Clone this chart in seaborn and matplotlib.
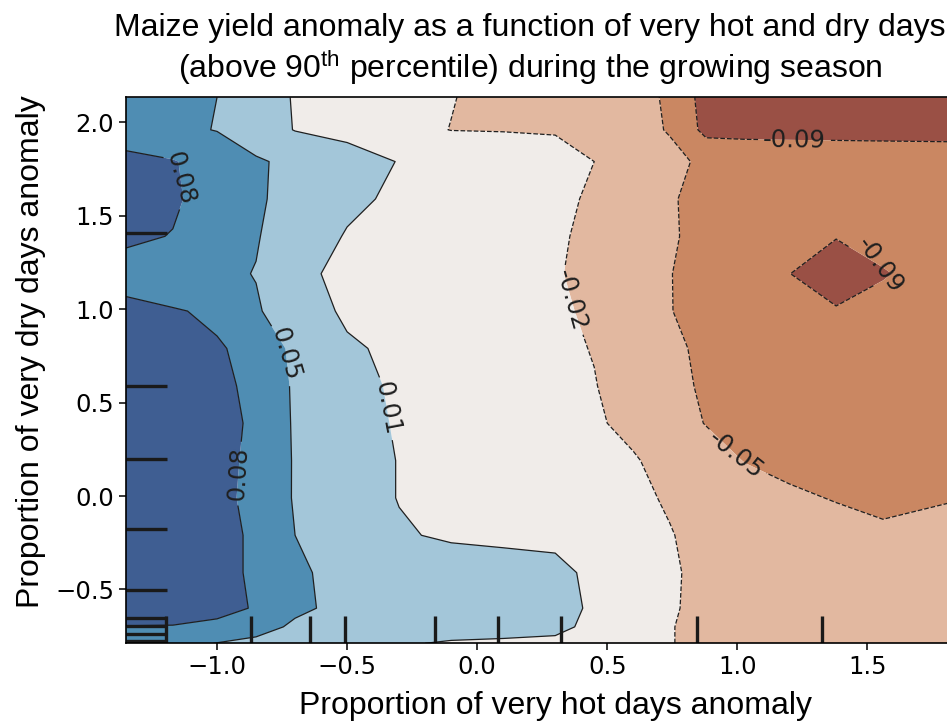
import numpy as np
import pandas as pd
import matplotlib
matplotlib.use("Agg")
import matplotlib.pyplot as plt
import seaborn as sns

# ---------------- data ----------------
hot_grid = [-1.35, -1.17, -1.00, -0.85, -0.70, -0.50, -0.30, -0.10, 0.10, 0.30,
            0.45, 0.60, 0.74, 0.88, 1.03, 1.20, 1.38, 1.56, 1.81]
dry_grid = [-0.788, -0.70, -0.60, -0.41, -0.21, -0.01, 0.19, 0.39, 0.59, 0.79,
            0.99, 1.19, 1.39, 1.59, 1.79, 1.96, 2.134]

# yield anomaly, one row per dry_grid value (bottom to top), one column per hot_grid value
yield_anomaly = [
    [0.065, 0.058, 0.045, 0.037, 0.030, 0.022, 0.016, 0.010, 0.008, 0.006, 0.001, -0.009, -0.019, -0.026, -0.031, -0.035, -0.038, -0.040, -0.042],
    [0.078, 0.078, 0.076, 0.060, 0.040, 0.033, 0.030, 0.027, 0.025, 0.021, 0.005, -0.009, -0.019, -0.026, -0.031, -0.035, -0.038, -0.040, -0.042],
    [0.095, 0.089, 0.083, 0.078, 0.053, 0.036, 0.034, 0.030, 0.028, 0.025, 0.008, -0.008, -0.018, -0.025, -0.031, -0.036, -0.039, -0.041, -0.043],
    [0.098, 0.090, 0.083, 0.077, 0.051, 0.036, 0.033, 0.029, 0.027, 0.024, 0.004, -0.010, -0.018, -0.024, -0.030, -0.036, -0.039, -0.042, -0.044],
    [0.100, 0.092, 0.083, 0.077, 0.046, 0.031, 0.016, 0.009, 0.006, 0.003, -0.003, -0.012, -0.019, -0.026, -0.034, -0.042, -0.046, -0.050, -0.050],
    [0.100, 0.091, 0.083, 0.075, 0.043, 0.027, 0.012, 0.006, -0.001, -0.007, -0.012, -0.016, -0.022, -0.030, -0.039, -0.050, -0.054, -0.057, -0.0535],
    [0.100, 0.091, 0.083, 0.076, 0.043, 0.027, 0.012, 0.005, -0.002, -0.008, -0.013, -0.018, -0.028, -0.041, -0.054, -0.058, -0.059, -0.060, -0.062],
    [0.098, 0.090, 0.083, 0.077, 0.042, 0.026, 0.010, 0.003, -0.004, -0.011, -0.017, -0.026, -0.041, -0.054, -0.058, -0.061, -0.065, -0.066, -0.068],
    [0.095, 0.088, 0.082, 0.076, 0.041, 0.024, 0.008, 0.002, -0.005, -0.013, -0.019, -0.031, -0.045, -0.057, -0.066, -0.067, -0.068, -0.069, -0.071],
    [0.092, 0.086, 0.081, 0.073, 0.037, 0.017, 0.007, 0.000, -0.007, -0.015, -0.021, -0.034, -0.047, -0.059, -0.068, -0.069, -0.070, -0.071, -0.072],
    [0.086, 0.081, 0.075, 0.049, 0.030, 0.008, 0.004, -0.003, -0.010, -0.016, -0.024, -0.038, -0.052, -0.063, -0.073, -0.076, -0.083, -0.077, -0.072],
    [0.068, 0.060, 0.052, 0.045, 0.020, 0.006, 0.002, -0.004, -0.011, -0.018, -0.027, -0.040, -0.052, -0.065, -0.076, -0.0855, -0.105, -0.088, -0.073],
    [0.084, 0.078, 0.062, 0.048, 0.030, 0.011, 0.004, -0.003, -0.010, -0.017, -0.025, -0.038, -0.050, -0.061, -0.071, -0.074, -0.0845, -0.076, -0.072],
    [0.095, 0.083, 0.066, 0.050, 0.036, 0.019, 0.008, 0.000, -0.008, -0.015, -0.023, -0.037, -0.050, -0.063, -0.070, -0.071, -0.072, -0.073, -0.074],
    [0.090, 0.081, 0.065, 0.050, 0.038, 0.025, 0.012, 0.004, -0.005, -0.010, -0.020, -0.033, -0.045, -0.059, -0.072, -0.073, -0.074, -0.075, -0.076],
    [0.058, 0.052, 0.045, 0.027, 0.012, 0.005, -0.012, -0.0205, -0.021, -0.022, -0.030, -0.043, -0.055, -0.095, -0.092, -0.092, -0.092, -0.092, -0.092],
    [0.066, 0.056, 0.046, 0.027, 0.011, 0.001, -0.010, -0.019, -0.028, -0.036, -0.042, -0.048, -0.055, -0.100, -0.100, -0.100, -0.100, -0.100, -0.100],
]

levels = [-0.119, -0.086, -0.053, -0.020, 0.013, 0.046, 0.079, 0.112]
band_colors = ["#9a5045", "#ca8762", "#e2b8a0", "#f0ece9", "#a3c6d9", "#4f8db3", "#3f5e92"]

rug_hot = [-1.198, -0.871, -0.643, -0.509, -0.163, 0.079, 0.324, 0.847, 1.327]
rug_dry = [1.409, 0.591, 0.200, -0.176, -0.503, -0.652, -0.693, -0.738, -0.777]

title_text = ("Maize yield anomaly as a function of very hot and dry days\n"
              "(above 90$^{\\mathrm{th}}$ percentile) during the growing season")
x_label = "Proportion of very hot days anomaly"
y_label = "Proportion of very dry days anomaly"

# ---------------- layout / style ----------------
label_spots = [(-1.148, 1.70), (-0.921, 0.12), (-0.725, 0.76), (-0.341, 0.47),
               (0.367, 1.05), (1.04, 0.29), (1.22, 1.92), (1.55, 1.24)]

sns.set_style("ticks")
plt.rcParams["font.family"] = ["DejaVu Sans"]
plt.rcParams["text.color"] = "black"
plt.rcParams["axes.labelcolor"] = "black"
plt.rcParams["mathtext.fontset"] = "custom"
plt.rcParams["mathtext.rm"] = "Liberation Sans"
plt.rcParams["mathtext.it"] = "Liberation Sans:italic"
plt.rcParams["mathtext.bf"] = "Liberation Sans:bold"

W, H = 947, 727
fig = plt.figure(figsize=(W / 100, H / 100), dpi=100)
ax = fig.add_axes([126 / W, (H - 643.3) / H, 822 / W, 546 / H])

Z = np.array(yield_anomaly)
ax.contourf(hot_grid, dry_grid, Z, levels=levels, colors=band_colors, antialiased=True)
cs = ax.contour(hot_grid, dry_grid, Z, levels=levels[1:-1], colors="#1f1f1f", linewidths=0.9)
ax.clabel(cs, fmt="%.2f", fontsize=17.5, inline=True, manual=label_spots)

rug_df = pd.DataFrame({"hot": rug_hot, "dry": rug_dry})
sns.rugplot(data=rug_df, x="hot", y="dry", height=0.05, color="#1a1a1a",
            linewidth=2.4, expand_margins=False, ax=ax)

ax.set_xlim(hot_grid[0], hot_grid[-1])
ax.set_ylim(dry_grid[0], dry_grid[-1])
ax.set_xticks([-1.0, -0.5, 0.0, 0.5, 1.0, 1.5])
ax.set_yticks([-0.5, 0.0, 0.5, 1.0, 1.5, 2.0])
ax.tick_params(labelsize=17.5, length=5, width=1.1, colors="black")
for s in ax.spines.values():
    s.set_linewidth(1.2)
    s.set_color("black")

ax.set_xlabel(x_label, fontsize=23, family="Liberation Sans", color="black")
ax.set_ylabel(y_label, fontsize=23, family="Liberation Sans", color="black")
ax.xaxis.set_label_coords(0.523, -0.088)
ax.yaxis.set_label_coords(-0.097, 0.535)
ax.set_title(title_text, fontsize=23, family="Liberation Sans", pad=14,
             linespacing=1.15, x=0.4915, color="black")

fig.savefig("out.png", dpi=100)
